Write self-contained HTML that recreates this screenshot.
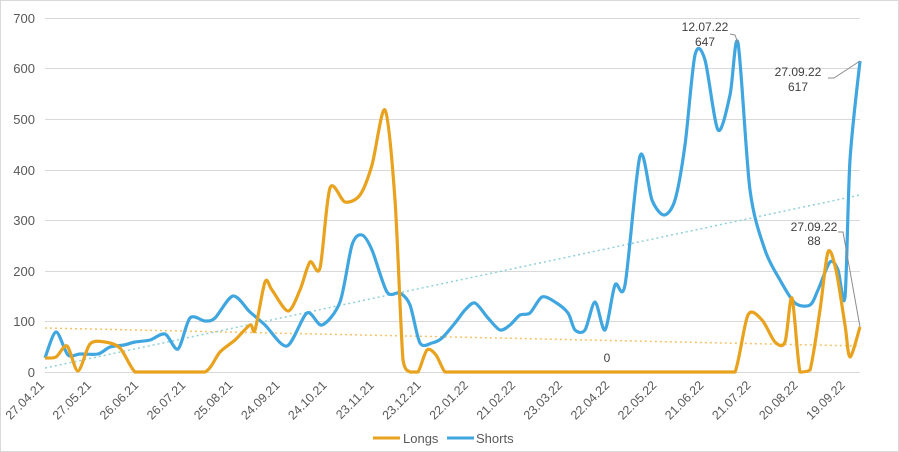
<!DOCTYPE html>
<html><head><meta charset="utf-8"><style>
html,body{margin:0;padding:0;background:#fff}
svg{display:block;font-family:"Liberation Sans",sans-serif}
</style></head><body>
<svg width="899" height="452" viewBox="0 0 899 452">
<rect x="0.5" y="0.5" width="898" height="451" fill="#fff" stroke="#d9d9d9"/>
<g stroke="#d9d9d9" stroke-width="1">
<line x1="45" x2="860" y1="18.5" y2="18.5"/>
<line x1="45" x2="860" y1="68.5" y2="68.5"/>
<line x1="45" x2="860" y1="119.5" y2="119.5"/>
<line x1="45" x2="860" y1="170.5" y2="170.5"/>
<line x1="45" x2="860" y1="220.5" y2="220.5"/>
<line x1="45" x2="860" y1="271.5" y2="271.5"/>
<line x1="45" x2="860" y1="321.5" y2="321.5"/>
<line x1="45" x2="860" y1="372.5" y2="372.5"/>
</g>
<g font-size="13" fill="#595959" text-anchor="end">
<text x="35" y="23">700</text><text x="35" y="73">600</text><text x="35" y="124">500</text>
<text x="35" y="175">400</text><text x="35" y="225">300</text><text x="35" y="276">200</text>
<text x="35" y="326">100</text><text x="35" y="377">0</text>
</g>
<g font-size="12.5" fill="#595959" text-anchor="end" id="xl"></g>
<line x1="45" y1="328" x2="860" y2="346" stroke="#f5c26b" stroke-width="1.5" stroke-dasharray="2,3"/>
<line x1="45" y1="368" x2="860" y2="195" stroke="#8fd0d8" stroke-width="1.5" stroke-dasharray="2,3"/>
<path id="shorts" fill="none" stroke="#40a6e0" stroke-width="3.2" stroke-linejoin="round"/>
<path id="longs" fill="none" stroke="#e8a21d" stroke-width="3.2" stroke-linejoin="round"/>
<g stroke="#8c8c8c" stroke-width="1" fill="none">
<polyline points="730,34 735,35 738,43"/>
<polyline points="828,78 834,78 860,61"/>
<polyline points="838,232 843,232 860,327"/>
</g>
<g font-size="12" fill="#404040" text-anchor="middle">
<text x="705" y="31">12.07.22</text><text x="705" y="46">647</text>
<text x="798" y="76">27.09.22</text><text x="798" y="91">617</text>
<text x="814" y="231">27.09.22</text><text x="814" y="245">88</text>
<text x="607" y="362">0</text>
</g>
<line x1="373" y1="438" x2="400" y2="438" stroke="#e8a21d" stroke-width="3"/>
<text x="403" y="443" font-size="13" fill="#595959">Longs</text>
<line x1="447" y1="438" x2="474" y2="438" stroke="#40a6e0" stroke-width="3"/>
<text x="476" y="443" font-size="13" fill="#595959">Shorts</text>
</svg>
<script>
function cr(p){let d="M"+p[0][0]+","+p[0][1];for(let i=0;i<p.length-1;i++){const p0=p[i-1]||p[i],p1=p[i],p2=p[i+1],p3=p[i+2]||p2;const t=7;let c1y=p1[1]+(p2[1]-p0[1])/t,c2y=p2[1]-(p3[1]-p1[1])/t;c1y=Math.min(c1y,372);c2y=Math.min(c2y,372);d+=" C"+(p1[0]+(p2[0]-p0[0])/t)+","+c1y+" "+(p2[0]-(p3[0]-p1[0])/t)+","+c2y+" "+p2[0]+","+p2[1];}return d;}
const S=[[45,358],[56,332],[68,355],[80,354],[98,354],[110,347],[124,345],[135,342],[150,340],[165,334],[178,349],[190,318],[205,321],[215,318],[233,296],[250,312],[265,325],[287,346],[307,313],[322,325],[340,302],[352,245],[362,235],[372,250],[387,292],[400,293],[410,305],[420,343],[432,343],[442,338],[455,323],[465,310],[475,303],[488,318],[500,330],[510,325],[520,315],[530,313],[542,297],[555,302],[568,313],[575,330],[585,330],[595,302],[605,330],[615,285],[625,285],[640,156],[652,200],[664,215],[675,200],[685,145],[695,55],[705,60],[718,130],[730,95],[738,43],[750,190],[765,250],[780,280],[795,303],[810,305],[818,290],[830,262],[838,270],[845,297],[850,160],[860,61]];
const L=[[45,358],[56,357],[67,346],[78,371],[90,344],[105,342],[120,348],[135,372],[150,372],[175,372],[205,372],[220,352],[235,340],[250,325],[255,330],[265,282],[272,290],[288,311],[300,290],[310,262],[320,268],[330,188],[345,202],[360,195],[372,165],[385,110],[395,200],[403,360],[410,372],[418,372],[427,350],[436,355],[445,372],[455,372]];
for(let x=480;x<=720;x+=30)L.push([x,372]);
L.push([735,372],[748,315],[762,320],[775,342],[785,342],[792,298],[800,372],[810,370],[820,310],[828,252],[836,270],[845,325],[850,357],[860,327]);
document.getElementById("shorts").setAttribute("d",cr(S));
document.getElementById("longs").setAttribute("d",cr(L));
const labs=["27.04.21","27.05.21","26.06.21","26.07.21","25.08.21","24.09.21","24.10.21","23.11.21","23.12.21","22.01.22","21.02.22","23.03.22","22.04.22","22.05.22","21.06.22","21.07.22","20.08.22","19.09.22"];
let h="";labs.forEach((l,i)=>{const x=45+i*47.1;h+=`<text transform="translate(${x},386) rotate(-45)">${l}</text>`;});
document.getElementById("xl").innerHTML=h;
</script>
</body></html>
